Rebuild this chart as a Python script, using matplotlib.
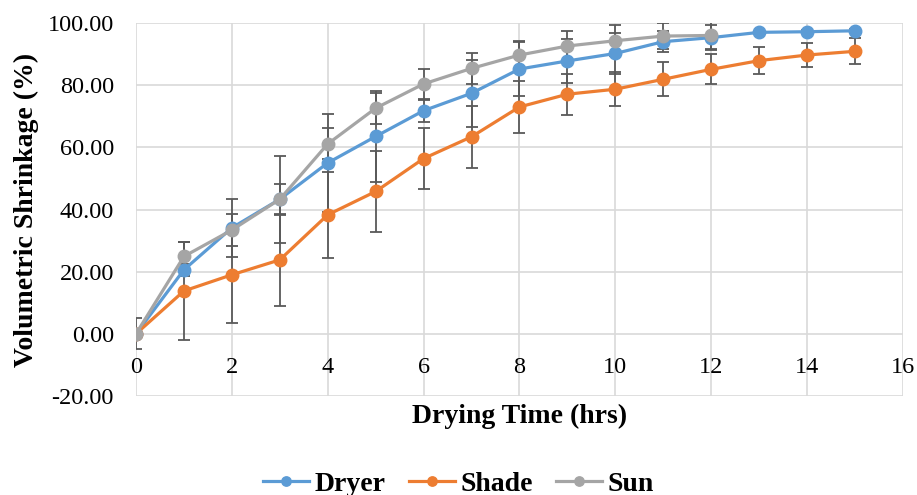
import matplotlib
matplotlib.use("Agg")
import matplotlib.pyplot as plt

plt.rcParams['font.family'] = ['Liberation Serif', 'DejaVu Serif']

# data
hours = [0, 1, 2, 3, 4, 5, 6, 7, 8, 9, 10, 11, 12, 13, 14, 15]
hours_sun = hours[:13]

dryer = [0, 20.6, 34.1, 43.3, 55.0, 63.5, 71.8, 77.4, 85.2, 87.8, 90.2, 94.0, 95.3, 97.0, 97.2, 97.5]
shade = [0, 13.8, 19.0, 23.8, 38.3, 45.8, 56.4, 63.4, 73.0, 77.1, 78.7, 81.9, 85.1, 87.9, 89.7, 90.9]
sun = [0, 24.9, 33.4, 43.3, 61.1, 72.6, 80.4, 85.4, 89.7, 92.6, 94.3, 95.8, 96.0]

dryer_err = [0, 2.0, 9.4, 14.0, 15.7, 14.5, 3.5, 10.7, 8.8, 7.2, 6.5, 3.4, 4.0, 0.5, 0.5, 0.5]
shade_err = [0, 15.9, 15.5, 14.7, 13.8, 13.0, 9.8, 10.0, 8.5, 6.6, 5.4, 5.4, 4.8, 4.3, 3.9, 4.2]
sun_err = [5.0, 4.8, 5.0, 5.0, 5.0, 5.0, 4.8, 5.0, 4.5, 4.8, 5.0, 4.2, 4.5]

colors = {'Dryer': '#5B9BD5', 'Shade': '#ED7D31', 'Sun': '#A5A5A5'}

fig = plt.figure(figsize=(9.17, 4.95), dpi=100)
ax = fig.add_axes([0.1483, 0.2, 0.8364, 0.7535])

series = [('Dryer', hours, dryer, dryer_err),
          ('Shade', hours, shade, shade_err),
          ('Sun', hours_sun, sun, sun_err)]

# error bars under the lines
for name, x, y, e in series:
    ax.errorbar(x, y, yerr=e, fmt='none', ecolor='#595959', elinewidth=1.3,
                capsize=4, capthick=1.3, zorder=2)

for name, x, y, e in series:
    ax.plot(x, y, color=colors[name], linewidth=2.3, marker='o', markersize=9,
            label=name, zorder=3)

ax.set_xlim(0, 16)
ax.set_ylim(-20, 100)
ax.set_xticks(range(0, 17, 2))
ax.set_yticks(range(-20, 101, 20))
ax.set_yticklabels([f"{v:.2f}" for v in range(-20, 101, 20)])
ax.tick_params(length=0, labelsize=17.5, colors='black')
ax.tick_params(axis='x', pad=17)
ax.tick_params(axis='y', pad=16)

ax.grid(True, color='#D9D9D9', linewidth=1.2)
ax.set_axisbelow(True)
for s in ax.spines.values():
    s.set_visible(False)
ax.spines['bottom'].set_position(('data', 0))

ax.set_xlabel("Drying Time (hrs)", fontsize=20, fontweight='bold')
ax.xaxis.set_label_coords(0.5, -0.02)
ax.set_ylabel("Volumetric Shrinkage (%)", fontsize=20, fontweight='bold')
ax.yaxis.set_label_coords(-0.127, 0.5)

leg = fig.legend(loc='center', bbox_to_anchor=(0.5, 1 - 484 / 495), ncol=3,
                 frameon=False, prop={'size': 20, 'weight': 'bold'},
                 handlelength=1.65, columnspacing=0.86, handletextpad=0.18,
                 markerscale=0.75)

fig.savefig("out.png", dpi=100)
